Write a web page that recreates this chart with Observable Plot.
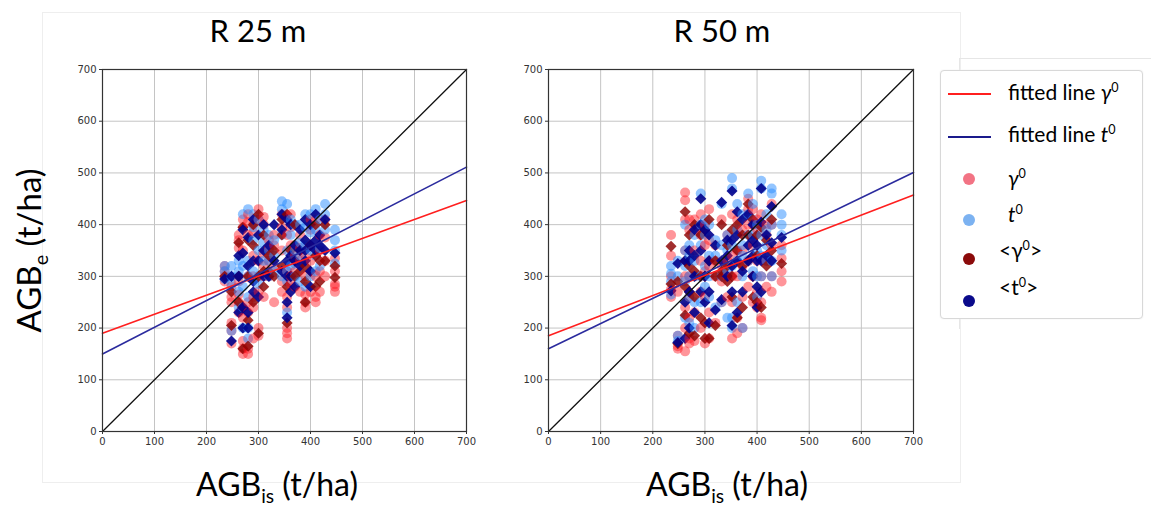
<!DOCTYPE html>
<html>
<head>
<meta charset="utf-8">
<script src="https://cdn.jsdelivr.net/npm/d3@7"></script>
<script src="https://cdn.jsdelivr.net/npm/@observablehq/plot@0.6"></script>
<style>
  html, body { margin: 0; padding: 0; background: #fff; }
  #root { position: relative; width: 1151px; height: 508px; overflow: hidden; font-family: Lato, "Open Sans", sans-serif; color: #000; }
  .abs { position: absolute; }
  .title { font-size: 31px; text-align: center; width: 200px; line-height: 1; }
  .xlab { font-size: 32px; text-align: center; width: 300px; white-space: nowrap; line-height: 1; }
  .ylab { font-size: 33px; white-space: nowrap; transform: rotate(-90deg); transform-origin: center center; width: 300px; text-align: center; line-height: 1; }
  .leg { position: absolute; left: 940px; top: 70px; width: 201px; height: 247px; border: 1px solid #d8d8d8; border-radius: 4px; background: #fff; box-shadow: 0 0 2px #eee; }
  .leg .row { position: absolute; left: 0; font-size: 21px; white-space: nowrap; line-height: 1; }
  sub, sup { font-size: 0.6em; line-height: 0; }
</style>
</head>
<body>
<div id="root">
  <div class="abs" style="left:42px;top:12px;width:917px;height:469px;border:1px solid #eeeeee;"></div>
  <div class="abs" style="left:959px;top:58px;width:192px;height:270px;border-top:1px solid #e6e6e6;border-left:1px solid #e6e6e6;"></div>
  <div class="abs title" style="left:158px;top:15px;">R 25 m</div>
  <div class="abs title" style="left:622px;top:15px;">R 50 m</div>
  <div class="abs ylab" style="left:-122px;top:234px;">AGB<sub>e</sub> (t/ha)</div>
  <div class="abs xlab" style="left:127px;top:468px;">AGB<sub>is</sub> (t/ha)</div>
  <div class="abs xlab" style="left:577px;top:468px;">AGB<sub>is</sub> (t/ha)</div>
  <div id="p1" class="abs" style="left:62px;top:50px;"></div>
  <div id="p2" class="abs" style="left:508px;top:50px;"></div>
  <div class="leg" id="legend"></div>
</div>
<script>
// ---------- data ----------
const axisTicks = [0, 100, 200, 300, 400, 500, 600, 700];
const panelTitles = ["R 25 m", "R 50 m"];

// Fitted lines: [intercept, slope]
const fitGammaR25 = [190, 0.367];
const fitTR25 = [150, 0.516];
const fitGammaR50 = [185, 0.389];
const fitTR50 = [160, 0.487];

// R 25 m — plot AGB_is values and estimated AGB_e per plot
const plotsR25 = [235, 248, 262, 270, 280, 290, 300, 310, 320, 330, 345, 355, 362, 370, 380, 390, 400, 410, 418, 428, 447];
const gammaR25 = [
  [300, 320, 290, 310], [210, 260, 280, 170, 195, 250], [370, 380, 250, 230, 290, 355, 265], [410, 150, 160, 220, 350, 395, 175],
  [420, 160, 230, 300, 380, 150, 250, 405], [400, 240, 180, 340, 260, 385, 300], [430, 200, 270, 330, 410, 185], [400, 300, 320, 260, 415, 345],
  [370, 330, 300, 355], [250, 360, 380, 320], [420, 290, 350, 395, 270], [180, 200, 310, 260, 380, 190, 240], [360, 300, 420, 395, 285],
  [340, 280, 310, 360], [380, 330, 270, 355], [250, 240, 300, 340, 265], [390, 330, 270, 410], [250, 410, 300, 260],
  [270, 350, 380, 310], [410, 300, 330, 375], [270, 285, 310, 335, 280]
];
const tR25 = [
  [310, 295, 320], [195, 300, 320, 285], [300, 330, 240, 270, 310], [200, 280, 420, 320, 240], [180, 260, 430, 330, 300, 200],
  [310, 370, 420, 395], [410, 300, 350, 285], [390, 330, 365], [350, 300, 330, 380], [310, 340, 370], [445, 300, 380, 430],
  [230, 440, 290, 310, 350], [320, 410, 380], [350, 300, 400, 325], [400, 340, 290, 365], [420, 280, 360, 395], [420, 300, 350, 385],
  [430, 340, 390, 310], [410, 320, 355], [440, 390, 420], [390, 370, 350, 325]
];
const gammaMeanR25 = [
  [300], [205, 270], [365, 250, 300], [160, 395, 240], [165, 215, 300, 370], [250, 360, 400], [420, 190, 300],
  [310, 280, 380], [340, 310], [350, 300], [410, 320, 380], [210, 280, 420], [350, 300], [300, 330, 400],
  [350, 310], [250, 320, 290], [360, 310], [280, 400, 340], [330, 290], [400, 330], [298, 320]
];
const tMeanR25 = [
  [295], [175, 300], [300, 340, 230], [200, 240, 345, 390], [230, 375, 320, 200], [290, 410, 270, 330],
  [330, 260, 380], [350, 400, 300], [300, 360], [400, 330], [390, 310, 420], [220, 250, 330, 410, 300],
  [400, 270, 340, 300], [280, 360, 330], [350, 320, 390], [330, 370, 410, 350], [400, 310, 280, 360], [350, 370, 420],
  [360, 380], [410, 350], [345]
];

// R 50 m
const plotsR50 = [235, 248, 262, 270, 280, 292, 300, 308, 320, 332, 343, 352, 362, 372, 383, 392, 400, 408, 418, 428, 447];
const gammaR50 = [
  [380, 340, 300, 275, 260], [160, 165, 270, 185], [462, 447, 410, 240, 200, 155, 300, 350], [390, 300, 180, 170, 260, 220, 410],
  [410, 350, 230, 175, 300, 390], [420, 270, 200, 330, 380], [400, 310, 260, 170, 360], [430, 370, 230, 180, 320],
  [360, 300, 210, 330], [410, 320, 290, 250], [380, 300, 260, 330], [420, 250, 180, 340, 300], [410, 300, 220, 190, 350],
  [390, 320, 260, 200, 350], [450, 400, 330, 280, 430], [430, 360, 300, 250, 400], [390, 330, 270, 240, 410],
  [420, 300, 220, 215, 250], [380, 330, 280, 400], [440, 400, 360, 270, 300], [360, 310, 290, 335]
];
const tR50 = [
  [290, 265, 320, 305], [175, 330, 300, 185], [350, 320, 220, 290, 400], [340, 260, 210, 360, 300], [380, 300, 200, 330, 250],
  [460, 360, 250, 400, 300], [320, 280, 410, 380], [260, 400, 340, 300], [340, 240, 370], [440, 300, 250, 360], [350, 310, 220, 380],
  [490, 470, 360, 220, 200, 320], [440, 330, 250, 390], [420, 360, 300, 200, 340], [460, 420, 380, 330],
  [440, 380, 310, 410], [350, 300, 260, 400], [485, 470, 380, 340, 300], [420, 390, 360, 330], [470, 460, 330, 300, 400],
  [420, 400, 380, 350]
];
const gammaMeanR50 = [
  [358, 285], [170, 290], [425, 280, 225, 330], [380, 190, 270, 320], [400, 185, 310, 260], [380, 220, 300],
  [300, 210, 180, 390], [410, 180, 330], [330, 205, 300], [400, 300, 310], [360, 290, 320], [390, 260, 300], [350, 220, 400],
  [380, 240, 320], [440, 330, 380], [410, 260, 300], [380, 250, 340], [395, 240], [370, 320], [410, 350], [325]
];
const tMeanR50 = [
  [272], [172, 325], [330, 250, 180], [330, 270, 200, 350], [390, 230, 340, 300], [450, 350, 270, 400],
  [300, 390, 250], [380, 270, 210, 330], [360, 235], [443, 330, 255], [340, 300, 370], [465, 370, 270, 205, 320],
  [425, 330, 230, 380], [410, 310, 270], [420, 360, 330], [400, 370, 340, 300], [330, 280, 240, 360],
  [470, 405, 330, 270], [380, 340], [435, 365, 330], [375]
];

// series styles
const seriesStyle = [
  { name: "γ0", fill: "rgba(255,20,30,0.45)", symbol: "circle" },
  { name: "t0", fill: "rgba(40,140,255,0.5)", symbol: "circle" },
  { name: "<γ0>", fill: "rgba(140,0,0,0.82)", symbol: "diamond2" },
  { name: "<t0>", fill: "rgba(0,0,140,0.9)", symbol: "diamond2" }
];

function buildRows(plots, seriesArrays) {
  const rows = [];
  plots.forEach((px, i) => {
    seriesArrays.forEach((arr, s) => {
      for (const v of arr[i]) rows.push({ x: px, y: v, fill: seriesStyle[s].fill, symbol: seriesStyle[s].symbol });
    });
  });
  return rows;
}

function fitLine(fit) {
  const [a, b] = fit;
  const dom = [axisTicks[0], axisTicks[axisTicks.length - 1]];
  return dom.map(x => ({ x, y: a + b * x }));
}

function panel(plots, seriesArrays, fitG, fitT, marginRight) {
  const rows = buildRows(plots, seriesArrays);
  const dom = [axisTicks[0], axisTicks[axisTicks.length - 1]];
  const identity = dom.map(v => ({ x: v, y: v }));
  return Plot.plot({
    width: 420, height: 420,
    marginLeft: 40, marginTop: 19, marginRight, marginBottom: 39,
    x: { domain: dom },
    y: { domain: dom },
    symbol: { domain: ["circle", "diamond2"], range: ["circle", "diamond2"] },
    style: { fontFamily: "'DejaVu Sans', sans-serif", fontSize: "10px", color: "#333", background: "transparent", overflow: "visible" },
    marks: [
      Plot.gridX(axisTicks, { stroke: "#c4c4c4", strokeOpacity: 1, strokeWidth: 1 }),
      Plot.gridY(axisTicks, { stroke: "#c4c4c4", strokeOpacity: 1, strokeWidth: 1 }),
      Plot.dot(rows, { x: "x", y: "y", fill: "fill", symbol: "symbol", r: 5, stroke: "none" }),
      Plot.line(identity, { x: "x", y: "y", stroke: "#111", strokeWidth: 1.3 }),
      Plot.line(fitLine(fitG), { x: "x", y: "y", stroke: "#ff1f1f", strokeWidth: 1.6 }),
      Plot.line(fitLine(fitT), { x: "x", y: "y", stroke: "#2b2b9e", strokeWidth: 1.6 }),
      Plot.frame({ stroke: "#333", strokeWidth: 1.2 }),
      Plot.axisX(axisTicks, { tickSize: 3, tickPadding: 3, label: null, stroke: "#333" }),
      Plot.axisY(axisTicks, { tickSize: 3, tickPadding: 3, label: null, stroke: "#333" })
    ]
  });
}

document.getElementById("p1").append(panel(plotsR25, [gammaR25, tR25, gammaMeanR25, tMeanR25], fitGammaR25, fitTR25, 16));
document.getElementById("p2").append(panel(plotsR50, [gammaR50, tR50, gammaMeanR50, tMeanR50], fitGammaR50, fitTR50, 15));

// legend (positions relative to box at 940,70)
const legendItems = [
  { kind: "line", color: "#ff1f1f", html: "fitted line <i>γ</i><sup>0</sup>", ty: 10, iy: 23 },
  { kind: "line", color: "#1a1a8c", html: "fitted line <i>t</i><sup>0</sup>", ty: 52, iy: 66 },
  { kind: "dot", color: "rgba(240,90,110,0.85)", html: "<i>γ</i><sup>0</sup>", ty: 96, iy: 108 },
  { kind: "dot", color: "rgba(110,170,240,0.9)", html: "<i>t</i><sup>0</sup>", ty: 132, iy: 149 },
  { kind: "dot", color: "#8b0a0a", html: "&lt;γ<sup>0</sup>&gt;", ty: 168, iy: 188 },
  { kind: "dot", color: "#0a0a8b", html: "&lt;t<sup>0</sup>&gt;", ty: 205, iy: 230 }
];
const leg = document.getElementById("legend");
for (const it of legendItems) {
  const icon = document.createElement("div");
  icon.style.position = "absolute";
  if (it.kind === "line") {
    icon.style.left = "7px"; icon.style.top = (it.iy - 1) + "px";
    icon.style.width = "43px"; icon.style.height = "2px"; icon.style.background = it.color;
  } else {
    icon.style.left = "22px"; icon.style.top = (it.iy - 6) + "px";
    icon.style.width = "12px"; icon.style.height = "12px"; icon.style.borderRadius = "50%"; icon.style.background = it.color;
  }
  leg.append(icon);
  const t = document.createElement("div");
  t.className = "row";
  t.style.left = it.html.startsWith("&lt;") ? "58px" : "67px";
  t.style.top = it.ty + "px";
  t.innerHTML = it.html;
  leg.append(t);
}
</script>
</body>
</html>
